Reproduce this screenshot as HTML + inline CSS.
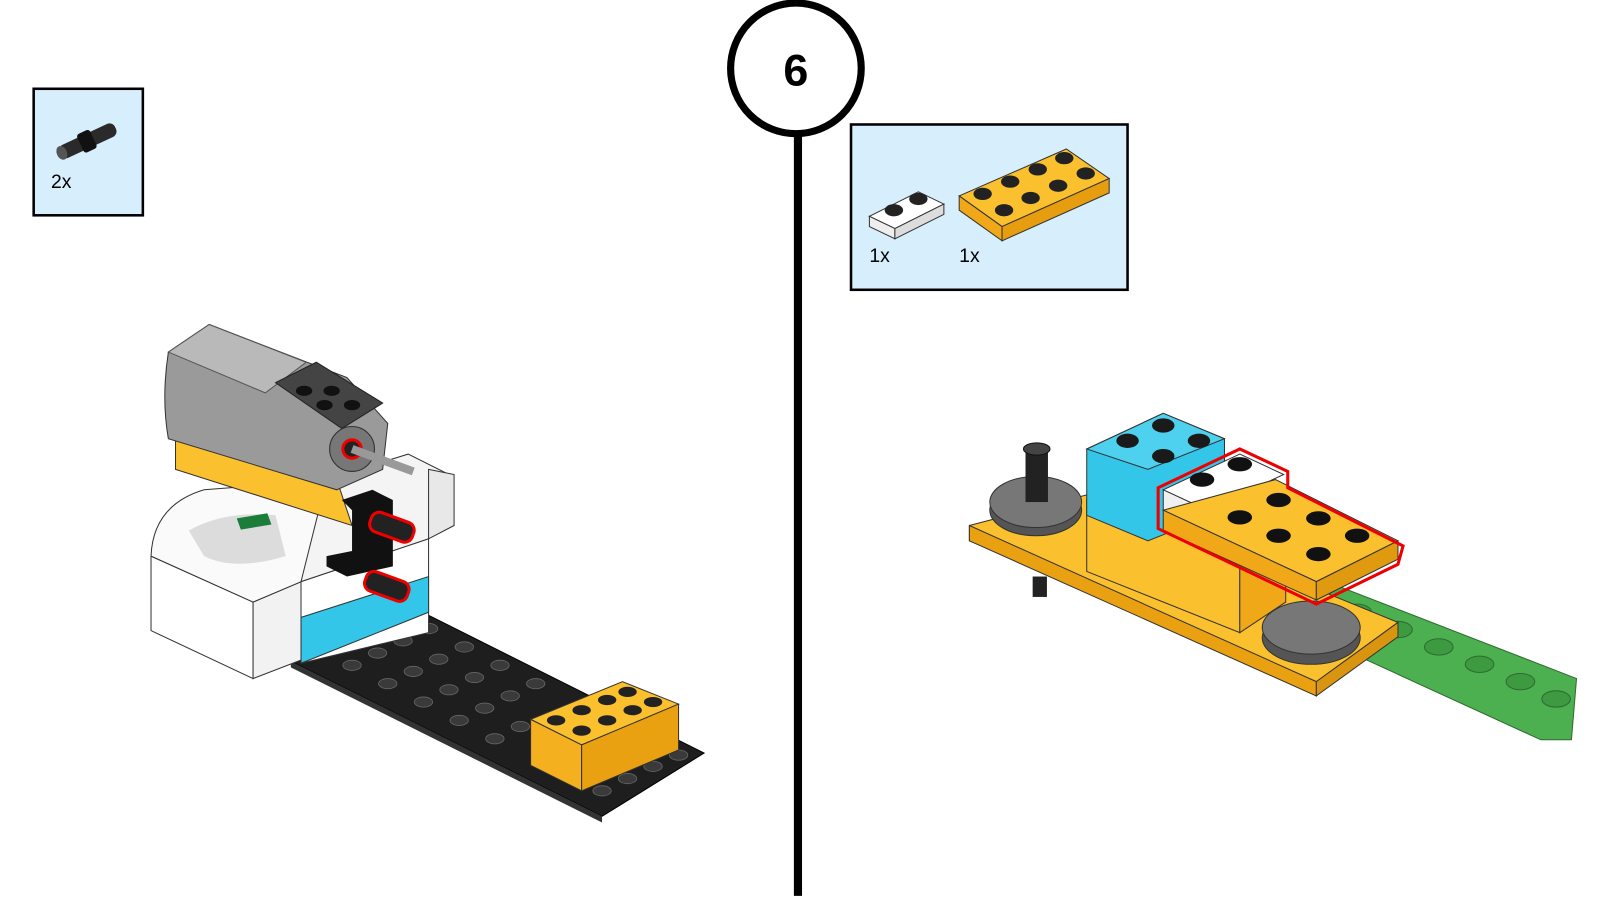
<!DOCTYPE html>
<html><head><meta charset="utf-8"><style>
html,body{margin:0;padding:0;background:#fff;}
svg{display:block;}
text{font-family:"Liberation Sans",sans-serif;}
</style></head><body>
<svg width="1600" height="900" viewBox="0 0 1568 882" preserveAspectRatio="none" xmlns="http://www.w3.org/2000/svg">
<rect width="1568" height="882" fill="#fff"/>
<line x1="782" y1="128" x2="782" y2="878" stroke="#000" stroke-width="8"/>
<circle cx="780" cy="67" r="64" fill="#fff" stroke="#000" stroke-width="7"/>
<text x="780" y="84" font-size="44" font-weight="bold" text-anchor="middle">6</text>

<rect x="33" y="87" width="107" height="124" fill="#d7eefd" stroke="#000" stroke-width="2.5"/>
<g transform="rotate(-25 86 138)">
<rect x="56" y="131" width="60" height="14" rx="6" fill="#2a2a2a"/>
<rect x="78" y="128" width="14" height="20" rx="3" fill="#111"/>
<ellipse cx="58" cy="138" rx="5" ry="7" fill="#555"/>
</g>
<text x="50" y="184" font-size="19">2x</text>

<rect x="834" y="122" width="271" height="162" fill="#d7eefd" stroke="#000" stroke-width="2.5"/>
<polygon points="852,212 900,188 925,200 877,224" fill="#fff" stroke="#333"/>
<polygon points="852,212 877,224 877,234 852,222" fill="#eee" stroke="#333"/>
<polygon points="877,224 925,200 925,210 877,234" fill="#ddd" stroke="#333"/>
<ellipse cx="876" cy="206" rx="9" ry="6" fill="#222"/><ellipse cx="900" cy="195" rx="9" ry="6" fill="#222"/>
<polygon points="940,192 1045,146 1087,175 982,222" fill="#fbc02d" stroke="#333"/>
<polygon points="940,192 982,222 982,236 940,206" fill="#f0a818" stroke="#333"/>
<polygon points="982,222 1087,175 1087,189 982,236" fill="#e79d10" stroke="#333"/>
<g fill="#222">
<ellipse cx="963" cy="190" rx="9" ry="6"/><ellipse cx="990" cy="178" rx="9" ry="6"/><ellipse cx="1017" cy="166" rx="9" ry="6"/><ellipse cx="1043" cy="155" rx="9" ry="6"/>
<ellipse cx="984" cy="206" rx="9" ry="6"/><ellipse cx="1010" cy="194" rx="9" ry="6"/><ellipse cx="1037" cy="182" rx="9" ry="6"/><ellipse cx="1064" cy="170" rx="9" ry="6"/>
</g>
<text x="852" y="257" font-size="19">1x</text>
<text x="940" y="257" font-size="19">1x</text>

<polygon points="285,648 420,603 690,738 590,800" fill="#1e1e1e" stroke="#000"/>
<polygon points="285,648 590,800 590,806 285,654" fill="#333"/>
<g fill="#3a3a3a" stroke="#666" stroke-width="0.8">
<ellipse cx="345" cy="652" rx="9" ry="5"/><ellipse cx="370" cy="640" rx="9" ry="5"/><ellipse cx="395" cy="628" rx="9" ry="5"/><ellipse cx="420" cy="616" rx="9" ry="5"/>
<ellipse cx="380" cy="670" rx="9" ry="5"/><ellipse cx="405" cy="658" rx="9" ry="5"/><ellipse cx="430" cy="646" rx="9" ry="5"/><ellipse cx="455" cy="634" rx="9" ry="5"/>
<ellipse cx="415" cy="688" rx="9" ry="5"/><ellipse cx="440" cy="676" rx="9" ry="5"/><ellipse cx="465" cy="664" rx="9" ry="5"/><ellipse cx="490" cy="652" rx="9" ry="5"/>
<ellipse cx="450" cy="706" rx="9" ry="5"/><ellipse cx="475" cy="694" rx="9" ry="5"/><ellipse cx="500" cy="682" rx="9" ry="5"/><ellipse cx="525" cy="670" rx="9" ry="5"/>
<ellipse cx="485" cy="724" rx="9" ry="5"/><ellipse cx="510" cy="712" rx="9" ry="5"/>
<ellipse cx="590" cy="775" rx="9" ry="5"/><ellipse cx="615" cy="763" rx="9" ry="5"/><ellipse cx="640" cy="751" rx="9" ry="5"/><ellipse cx="665" cy="740" rx="9" ry="5"/>
</g>
<polygon points="520,705 610,668 665,690 570,730" fill="#fbc02d" stroke="#333"/>
<polygon points="520,705 570,730 570,775 520,750" fill="#f5b020" stroke="#333"/>
<polygon points="570,730 665,690 665,735 570,775" fill="#e9a112" stroke="#333"/>
<g fill="#222"><ellipse cx="545" cy="706" rx="9" ry="5"/><ellipse cx="570" cy="696" rx="9" ry="5"/><ellipse cx="595" cy="686" rx="9" ry="5"/><ellipse cx="570" cy="716" rx="9" ry="5"/><ellipse cx="595" cy="706" rx="9" ry="5"/><ellipse cx="620" cy="696" rx="9" ry="5"/><ellipse cx="615" cy="678" rx="9" ry="5"/><ellipse cx="640" cy="688" rx="9" ry="5"/></g>
<polygon points="148,545 248,590 248,665 148,618" fill="#fff" stroke="#333"/>
<polygon points="248,590 300,568 300,645 248,665" fill="#f2f2f2" stroke="#333"/>
<path d="M148,545 Q150,495 200,480 L330,470 Q345,520 300,568 L248,590 Z" fill="#fafafa" stroke="#333"/>
<path d="M185,520 Q220,500 270,505 L280,545 Q230,560 200,545 Z" fill="#dcdcdc"/>
<polygon points="232,508 262,503 266,514 236,519" fill="#1b7d3a"/>
<polygon points="295,570 420,528 420,620 295,650" fill="#fff" stroke="#333"/>
<polygon points="295,605 420,565 420,600 295,650" fill="#33c6e8" stroke="#333"/>
<polygon points="295,570 420,528 440,465 400,445 320,470" fill="#f4f4f4" stroke="#333"/>
<polygon points="420,528 445,515 445,465 420,460" fill="#e8e8e8" stroke="#333"/>
<polygon points="172,425 330,470 345,515 172,460" fill="#fbc02d" stroke="#333"/>
<path d="M165,345 L205,318 L340,370 L380,415 L375,460 L330,480 L165,430 Q158,390 165,345 Z" fill="#9a9a9a" stroke="#333"/>
<polygon points="165,345 205,318 300,355 260,385" fill="#b9b9b9" stroke="#555"/>
<polygon points="270,375 310,355 375,395 335,420" fill="#444" stroke="#222"/>
<g fill="#111"><ellipse cx="298" cy="383" rx="8" ry="5"/><ellipse cx="325" cy="383" rx="8" ry="5"/><ellipse cx="318" cy="397" rx="8" ry="5"/><ellipse cx="345" cy="397" rx="8" ry="5"/></g>
<circle cx="345" cy="440" r="22" fill="#777" stroke="#333"/>
<circle cx="345" cy="440" r="9" fill="#222" stroke="#e00" stroke-width="3"/>
<line x1="345" y1="440" x2="405" y2="462" stroke="#999" stroke-width="8"/>
<polygon points="335,490 365,480 385,490 385,555 340,565 320,555 320,545 345,540 345,500" fill="#111"/>
<g transform="rotate(20 385 517)"><rect x="362" y="507" width="44" height="20" rx="8" fill="#222" stroke="#e00" stroke-width="3"/></g>
<g transform="rotate(20 380 575)"><rect x="357" y="565" width="44" height="20" rx="8" fill="#222" stroke="#e00" stroke-width="3"/></g>

<polygon points="1268,585 1300,570 1545,665 1540,725 1510,725 1270,615" fill="#4caf50" stroke="#2e6b30"/>
<g fill="#3d9a41" stroke="#2e6b30"><ellipse cx="1330" cy="600" rx="14" ry="8"/><ellipse cx="1370" cy="617" rx="14" ry="8"/><ellipse cx="1410" cy="634" rx="14" ry="8"/><ellipse cx="1450" cy="651" rx="14" ry="8"/><ellipse cx="1490" cy="668" rx="14" ry="8"/><ellipse cx="1525" cy="685" rx="14" ry="8"/></g>
<polygon points="950,515 1065,485 1370,610 1290,668 950,530" fill="#fbc02d" stroke="#333"/>
<polygon points="950,515 1290,668 1290,682 950,530" fill="#e9a112" stroke="#333"/>
<polygon points="1290,668 1370,610 1370,624 1290,682" fill="#d99410" stroke="#333"/>
<ellipse cx="1015" cy="500" rx="45" ry="25" fill="#555" stroke="#333"/>
<ellipse cx="1015" cy="492" rx="45" ry="25" fill="#777" stroke="#333"/>
<rect x="1005" y="440" width="22" height="52" fill="#222"/>
<ellipse cx="1016" cy="440" rx="13" ry="6" fill="#444" stroke="#111"/>
<rect x="1012" y="565" width="14" height="20" fill="#222"/>
<ellipse cx="1285" cy="625" rx="48" ry="26" fill="#555" stroke="#333"/>
<ellipse cx="1285" cy="615" rx="48" ry="26" fill="#777" stroke="#333"/>
<polygon points="1065,490 1065,560 1215,620 1215,550" fill="#fbc02d" stroke="#333"/>
<polygon points="1215,550 1260,530 1260,590 1215,620" fill="#f0a818" stroke="#333"/>
<polygon points="1065,440 1140,405 1200,430 1200,500 1125,530 1065,505" fill="#33c6e8" stroke="#333"/>
<polygon points="1065,440 1140,405 1200,430 1125,460" fill="#4ed1ef" stroke="#333"/>
<g fill="#1a1a1a"><ellipse cx="1105" cy="432" rx="11" ry="7"/><ellipse cx="1140" cy="417" rx="11" ry="7"/><ellipse cx="1140" cy="447" rx="11" ry="7"/><ellipse cx="1175" cy="432" rx="11" ry="7"/></g>
<polygon points="1140,480 1215,445 1258,465 1183,500" fill="#fff" stroke="#333"/>
<polygon points="1140,480 1183,500 1183,520 1140,500" fill="#f0f0f0" stroke="#333"/>
<g fill="#111"><ellipse cx="1178" cy="470" rx="12" ry="7"/><ellipse cx="1215" cy="455" rx="12" ry="7"/></g>
<polygon points="1140,500 1250,470 1370,530 1290,570" fill="#fbc02d" stroke="#333"/>
<polygon points="1140,500 1290,570 1290,588 1140,520" fill="#f0a818" stroke="#333"/>
<polygon points="1290,570 1370,530 1370,548 1290,588" fill="#e09a10" stroke="#333"/>
<g fill="#111"><ellipse cx="1215" cy="507" rx="12" ry="7"/><ellipse cx="1253" cy="490" rx="12" ry="7"/><ellipse cx="1253" cy="525" rx="12" ry="7"/><ellipse cx="1292" cy="508" rx="12" ry="7"/><ellipse cx="1292" cy="543" rx="12" ry="7"/><ellipse cx="1330" cy="525" rx="12" ry="7"/></g>
<polygon points="1135,478 1215,440 1262,462 1262,478 1375,535 1370,553 1290,592 1135,518" fill="none" stroke="#e00" stroke-width="3"/>
</svg>
</body></html>
